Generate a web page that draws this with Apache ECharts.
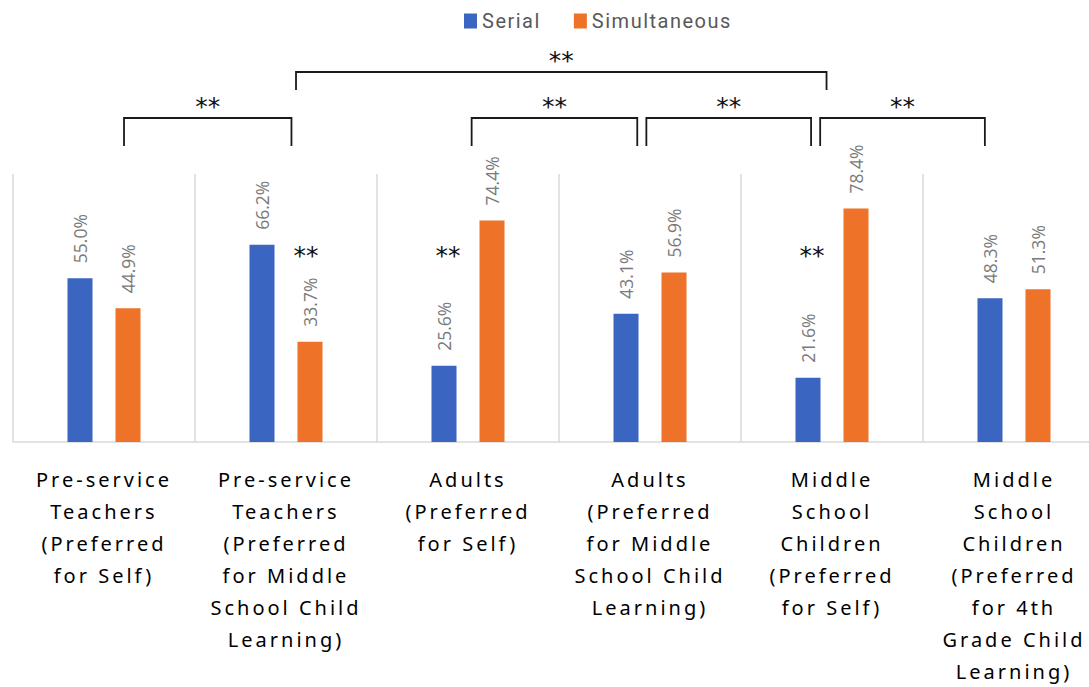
<!DOCTYPE html>
<html>
<head>
<meta charset="utf-8">
<script src="https://cdn.jsdelivr.net/npm/echarts@6/dist/echarts.min.js"></script>
<style>
  html, body { margin: 0; padding: 0; background: #fff; overflow: hidden; }
  /* the last column runs past the right edge of the picture */
  #main { width: 1105px; height: 687px; }
  /* spaced-out text like the original (these families are used only here) */
  #main text[style*="Noto Sans"] { letter-spacing: 3px; }
  #main text[style*="Roboto"] { letter-spacing: 1.5px; }
</style>
</head>
<body>
<div id="main"></div>
<script>
var categories = [
  'Pre-service\nTeachers\n(Preferred\nfor Self)',
  'Pre-service\nTeachers\n(Preferred\nfor Middle\nSchool Child\nLearning)',
  'Adults\n(Preferred\nfor Self)',
  'Adults\n(Preferred\nfor Middle\nSchool Child\nLearning)',
  'Middle\nSchool\nChildren\n(Preferred\nfor Self)',
  'Middle\nSchool\nChildren\n(Preferred\nfor 4th\nGrade Child\nLearning)'
];
var serial = [55.0, 66.2, 25.6, 43.1, 21.6, 48.3];
var simultaneous = [44.9, 33.7, 74.4, 56.9, 78.4, 51.3];

// brackets between categories: [from, to] in category units, level 0 = low, 1 = high
var brackets = [
  [0.11, 1.03, 0],
  [2.02, 2.93, 0],
  [2.98, 3.885, 0],
  [3.935, 4.84, 0],
  [1.055, 3.97, 1]
];
// "**" marks inside the plot: [category index, offset in category units, value]
var innerStars = [
  [1, 0.11, 64],
  [2, -0.11, 64],
  [4, -0.11, 64]
];

var blue = '#3a65c1';
var orange = '#ee7228';

var chart = echarts.init(document.getElementById('main'), null, { renderer: 'svg' });

function pctLabel(p) {
  return p.value.toFixed(1) + '%';
}

var barLabel = {
  show: true,
  position: 'top',
  rotate: 90,
  align: 'left',
  verticalAlign: 'middle',
  distance: 15,
  formatter: pctLabel,
  fontFamily: 'Open Sans',
  fontSize: 17.5,
  color: '#7a7a7a'
};

var option = {
  animation: false,
  legend: {
    top: 6,
    left: 459,
    icon: 'rect',
    itemWidth: 13,
    itemHeight: 15,
    itemGap: 42,
    itemStyle: { borderWidth: 0 },
    textStyle: { fontFamily: 'Roboto', fontSize: 20, color: '#595959' },
    data: ['Serial', 'Simultaneous']
  },
  grid: { left: 13, right: 0, top: 174, bottom: 240, containLabel: false },
  xAxis: {
    type: 'category',
    data: categories,
    axisLine: { lineStyle: { color: '#d9d9d9', width: 1.5 } },
    axisTick: { show: false },
    splitLine: { show: true, interval: 0, lineStyle: { color: '#d9d9d9', width: 1.5 } },
    axisLabel: {
      interval: 0,
      margin: 21,
      fontFamily: 'Noto Sans',
      fontSize: 20,
      lineHeight: 32,
      color: '#000',
      align: 'center'
    }
  },
  yAxis: {
    type: 'value',
    min: 0,
    max: 90,
    show: false,
    splitLine: { show: false }
  },
  series: [
    {
      name: 'Serial',
      type: 'bar',
      data: serial,
      barWidth: 25,
      barGap: '92%',
      itemStyle: { color: blue },
      label: barLabel
    },
    {
      name: 'Simultaneous',
      type: 'bar',
      data: simultaneous,
      barWidth: 25,
      itemStyle: { color: orange },
      label: barLabel
    }
  ]
};

chart.setOption(option);

// annotation layer: brackets and significance stars
var c0 = chart.convertToPixel({ xAxisIndex: 0 }, 0);
var band = chart.convertToPixel({ xAxisIndex: 0 }, 1) - c0;
function catX(u) { return c0 + u * band; }

var starStyle = { text: '**', fontFamily: 'DejaVu Sans', fontSize: 25, fill: '#111', align: 'center', verticalAlign: 'middle' };
var levelY = [{ bar: 118, leg: 146, star: 106 }, { bar: 72, leg: 90, star: 60 }];
var graphics = [];
brackets.forEach(function (b) {
  var x1 = catX(b[0]), x2 = catX(b[1]), lv = levelY[b[2]];
  graphics.push({
    type: 'polyline',
    shape: { points: [[x1, lv.leg], [x1, lv.bar], [x2, lv.bar], [x2, lv.leg]] },
    style: { stroke: '#1a1a1a', lineWidth: 1.8, fill: null }
  });
  graphics.push({
    type: 'text',
    x: (x1 + x2) / 2,
    y: lv.star,
    style: starStyle
  });
});
innerStars.forEach(function (s) {
  graphics.push({
    type: 'text',
    x: catX(s[0] + s[1]),
    y: chart.convertToPixel({ yAxisIndex: 0 }, s[2]) + 4,
    style: starStyle
  });
});
chart.setOption({ graphic: graphics });
</script>
</body>
</html>
